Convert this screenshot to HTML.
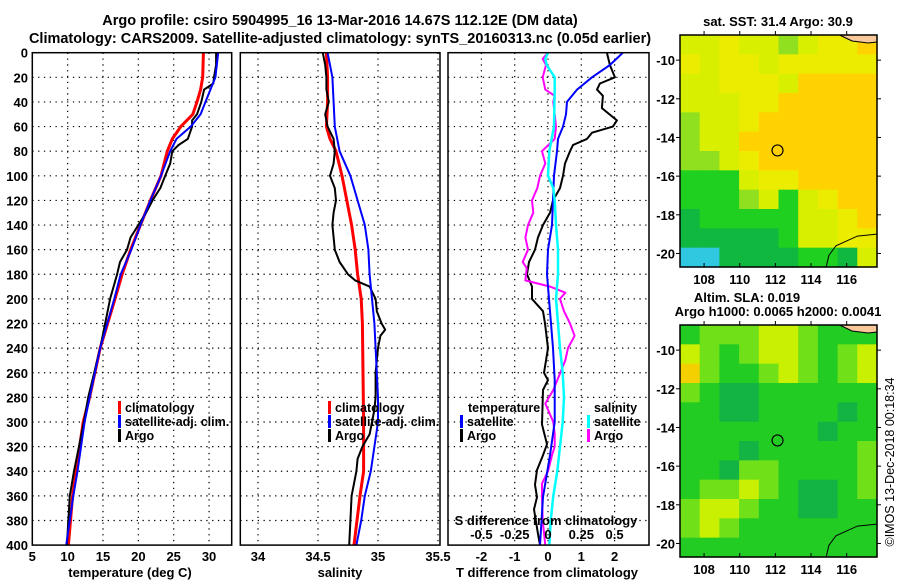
<!DOCTYPE html>
<html><head><meta charset="utf-8">
<style>
html,body{margin:0;padding:0;background:#fff;}
svg{display:block;font-family:"Liberation Sans",Arial,sans-serif;font-weight:bold;}
</style></head>
<body>
<svg id="chart" width="900" height="580" viewBox="0 0 900 580" xmlns="http://www.w3.org/2000/svg">
<rect width="900" height="580" fill="#fff"/>
<text x="340" y="25" font-size="14.5" text-anchor="middle">Argo profile: csiro 5904995_16 13-Mar-2016 14.67S 112.12E (DM data)</text>
<text x="340" y="43" font-size="14.5" text-anchor="middle">Climatology: CARS2009. Satellite-adjusted climatology: synTS_20160313.nc (0.05d earlier)</text>
<g id="g1"></g>
<g id="g2"></g>
<g id="g3"></g>
<g id="m1"></g>
<g id="m2"></g>
<text x="778" y="26" font-size="13" text-anchor="middle">sat. SST: 31.4 Argo: 30.9</text>
<text x="747" y="302" font-size="13" text-anchor="middle">Altim. SLA: 0.019</text>
<text x="778" y="316" font-size="13" text-anchor="middle">Argo h1000: 0.0065 h2000: 0.0041</text>
<text transform="translate(894,462) rotate(-90)" font-size="12.5" font-weight="normal" text-anchor="middle">©IMOS 13-Dec-2018 00:18:34</text>
</svg>
<script>
// ---------- data ----------
const tClimDepth=[0,20,30,40,50,60,70,80,100,120,140,160,180,200,240,280,300,340,360,400];
const tClimVal=[29.2,29.1,28.8,28.3,27.7,26.0,24.8,24.1,23.2,21.7,20.3,18.9,17.7,16.7,14.6,13.1,12.2,11.2,10.7,10.1];
const tSatDepth=[0,20,40,50,60,70,80,100,120,140,160,180,200,240,280,300,340,360,400];
const tSatVal=[31.3,30.9,29.5,28.8,27.4,25.4,24.5,23.2,21.7,20.3,19.0,17.5,16.6,14.6,13.1,12.4,11.4,10.8,9.8];
const tArgoDepth=[0,10,20,25,30,40,50,55,60,70,75,80,90,100,110,120,130,140,150,160,170,180,200,240,280,300,340,360,400];
const tArgoVal=[31.0,31.0,30.7,30.6,29.3,28.9,28.3,27.6,27.6,27.0,25.7,24.8,24.5,23.8,23.1,22.0,21.1,20.0,18.9,18.4,17.4,17.0,16.0,14.6,12.9,12.3,10.9,10.3,9.9];

const sClimDepth=[0,20,40,60,70,80,100,120,140,160,180,200,220,300,340,360,400];
const sClimVal=[34.57,34.58,34.58,34.57,34.60,34.65,34.70,34.74,34.78,34.81,34.83,34.86,34.87,34.88,34.88,34.85,34.80];
const sSatDepth=[0,10,20,40,60,80,100,120,140,160,180,200,220,240,260,280,300,320,340,360,380,400];
const sSatVal=[34.58,34.60,34.62,34.63,34.64,34.68,34.77,34.83,34.89,34.92,34.93,34.95,34.97,34.98,34.99,35.00,35.00,34.97,34.94,34.89,34.86,34.82];
const sArgoDepth=[0,10,20,30,40,50,60,70,80,90,100,110,120,130,140,150,160,170,180,185,190,200,210,220,225,230,240,260,280,290,300,310,320,330,340,360,400];
const sArgoVal=[34.54,34.56,34.57,34.57,34.59,34.56,34.58,34.63,34.64,34.63,34.60,34.64,34.65,34.63,34.62,34.63,34.64,34.68,34.75,34.81,34.93,34.98,34.99,35.03,35.06,35.02,35.00,34.98,34.98,34.97,34.95,34.93,34.87,34.83,34.82,34.78,34.76];

const dTSatDepth=[0,10,20,30,40,50,60,70,80,100,120,140,160,180,200,220,240,266,300,327,361,400];
const dTSatVal=[2.25,1.86,1.32,0.87,0.57,0.54,0.45,0.30,0.27,0.18,0.15,0.12,0.0,-0.03,0.03,0.09,0.15,0.20,0.20,0.06,-0.15,-0.24];
const dTArgoDepth=[0,10,20,25,30,35,45,55,60,65,70,75,80,90,100,110,120,130,140,150,160,170,180,190,200,210,220,240,260,266,274,302,318,327,339,351,361,371,391,400];
const dTArgoVal=[1.77,1.86,2.01,1.56,1.47,1.65,1.62,2.07,1.95,1.32,1.17,0.75,0.66,0.51,0.45,0.36,0.15,0.06,-0.15,-0.30,-0.39,-0.57,-0.63,-0.48,-0.48,-0.15,-0.09,0.0,-0.12,0.0,-0.15,-0.18,-0.03,-0.15,-0.33,-0.39,-0.33,-0.42,-0.30,-0.24];
const dSSatDepth=[0,5,10,20,30,60,80,100,110,120,140,160,180,200,220,240,260,280,300,320,340,360,380,400];
const dSSatVal=[0.0,-0.02,-0.01,0.05,0.05,0.045,0.01,0.0,0.04,0.05,0.06,0.075,0.075,0.06,0.075,0.09,0.11,0.12,0.11,0.09,0.07,0.04,0.02,0.01];
const dSArgoDepth=[0,5,10,20,30,35,40,50,60,70,80,90,100,110,120,130,140,150,160,170,175,180,185,190,195,200,210,220,230,240,250,266,274,285,300,310,320,327,340,350,361,380,400];
const dSArgoVal=[0.0,-0.04,-0.015,-0.04,-0.02,0.05,0.04,0.05,0.06,0.05,-0.045,-0.02,-0.06,-0.08,-0.12,-0.11,-0.15,-0.17,-0.15,-0.19,-0.16,-0.165,-0.17,0.015,0.13,0.09,0.12,0.165,0.2,0.15,0.13,0.07,0.04,-0.02,0.04,0.05,0.05,0.03,0.0,-0.045,-0.045,-0.04,-0.02];

const depthTicks=[0,20,40,60,80,100,120,140,160,180,200,220,240,260,280,300,320,340,360,380,400];
const tTicks=[5,10,15,20,25,30];
const sTicks=[34,34.5,35,35.5];
const sTickLabels=["34","34.5","35","35.5"];
const dTTicks=[-2,-1,0,1,2];
const dSTicks=[-0.5,-0.25,0,0.25,0.5];
const lonTicks=[108,110,112,114,116];
const latTicks=[-10,-12,-14,-16,-18,-20];

const sstGrid=[
[4,4,5,4,4,3,4,5,5,6],[5,4,5,5,4,5,5,5,5,5],[4,4,5,5,5,4,6,6,6,6],[4,4,4,5,5,6,6,6,6,6],
[3,4,4,5,6,6,6,6,6,6],[3,4,4,6,6,6,6,6,6,6],[3,3,4,5,6,6,6,6,6,6],[2,2,2,4,5,5,6,6,6,6],
[2,2,2,3,4,2,4,5,6,6],[1,2,2,2,2,2,4,4,5,6],[1,1,1,1,1,2,4,4,5,5],[0,0,1,1,1,1,2,2,1,4]];
const sstPalette=["#30c8e0","#10b840","#20d020","#90e020","#d8f000","#ecec00","#ffd200"];
const slaGrid=[
[1,2,2,2,3,3,2,1,1,1],[3,2,1,2,3,3,2,1,2,3],[4,2,1,1,2,3,2,1,2,3],[2,1,0,0,1,1,1,1,1,1],
[1,1,0,0,1,1,1,1,0,1],[1,1,1,1,1,1,1,0,1,1],[1,1,1,0,1,1,1,1,1,2],[1,1,0,2,2,1,1,1,1,2],
[1,2,2,3,2,1,0,0,1,2],[2,3,3,2,1,1,0,0,1,1],[2,3,2,1,1,1,1,1,1,1],[1,1,1,1,1,1,1,1,1,1]];
const slaPalette=["#14b444","#22cc22","#70e018","#c8f000","#f4d000"];
const floatLon=112.12, floatLat=-14.67;

// ---------- helpers ----------
const NS="http://www.w3.org/2000/svg";
function mk(parent,tag,attrs,text){const e=document.createElementNS(NS,tag);for(const k in attrs)e.setAttribute(k,attrs[k]);if(text!==undefined)e.textContent=text;parent.appendChild(e);return e;}
const Y0=52.7,YS=1.231;
const yD=d=>Y0+d*YS;
const xT=t=>32.3+(t-5)*7.07;
const xS=s=>258+(s-34)*120;
const xDT=v=>548+v*33.3;
const xDS=v=>548+v*133.2;

function frame(g,x0,x1,xticks,xf){
  depthTicks.forEach(d=>{ if(d>0&&d<400){const l=mk(g,'line',{x1:x0,x2:x1,y1:yD(d),y2:yD(d),stroke:'#000','stroke-width':1.2,'stroke-dasharray':'1.3 4.5'});
    
    }});
  xticks.forEach(t=>{const x=xf(t); if(x>x0+1&&x<x1-1){const l=mk(g,'line',{x1:x,x2:x,y1:yD(0),y2:yD(400),stroke:'#000','stroke-width':1.2,'stroke-dasharray':'1.3 4.5'});
    
    }});
}
function border(g,x0,x1){const r=mk(g,'rect',{x:x0,y:yD(0),width:x1-x0,height:yD(400)-yD(0),fill:'none',stroke:'#000','stroke-width':1.5});
  
  }
function line(g,depths,vals,xf,color,w,name){
  const pts=depths.map((d,i)=>xf(vals[i]).toFixed(1)+','+yD(d).toFixed(1)).join(' ');
  const p=mk(g,'polyline',{points:pts,fill:'none',stroke:color,'stroke-width':w,'stroke-linejoin':'round'});
  
  
}
function label(g,x,y,txt,anchor,size,name){const t=mk(g,'text',{x:x,y:y,'font-size':size||13,'text-anchor':anchor||'middle'},txt);
  
  return t;}
function legendEntry(g,x,y,color,txt){
  const r=mk(g,'rect',{x:x,y:y-11,width:3,height:13,fill:color});
  
  
  label(g,x+7,y,txt,'start',12.5,'legend-entry');
}

// ---------- panel 1 ----------
const g1=document.getElementById('g1');
frame(g1,32.3,231.7,tTicks,xT);
line(g1,tClimDepth,tClimVal,xT,'#ff0000',3,'climatology-temperature-line');
line(g1,tArgoDepth,tArgoVal,xT,'#000',2,'argo-temperature-line');
line(g1,tSatDepth,tSatVal,xT,'#0000ff',2,'satellite-temperature-line');
border(g1,32.3,231.7);
depthTicks.forEach(d=>label(g1,28,yD(d)+5,String(d),'end',13,'depth-tick-label'));
tTicks.forEach(t=>label(g1,xT(t),561,String(t),'middle',13,'temperature-tick-label'));
label(g1,130,577,'temperature (deg C)','middle',13,'temperature-axis-title');
legendEntry(g1,118,412,'#ff0000','climatology');
legendEntry(g1,118,426,'#0000ff','satellite-adj. clim.');
legendEntry(g1,118,440,'#000','Argo');

// ---------- panel 2 ----------
const g2=document.getElementById('g2');
frame(g2,240.3,440,sTicks,xS);
line(g2,sClimDepth,sClimVal,xS,'#ff0000',3,'climatology-salinity-line');
line(g2,sArgoDepth,sArgoVal,xS,'#000',2,'argo-salinity-line');
line(g2,sSatDepth,sSatVal,xS,'#0000ff',2,'satellite-salinity-line');
border(g2,240.3,440);
sTicks.forEach((s,i)=>label(g2,xS(s),561,sTickLabels[i],'middle',13,'salinity-tick-label'));
label(g2,340,577,'salinity','middle',13,'salinity-axis-title');
legendEntry(g2,328,412,'#ff0000','climatology');
legendEntry(g2,328,426,'#0000ff','satellite-adj. clim.');
legendEntry(g2,328,440,'#000','Argo');

// ---------- panel 3 ----------
const g3=document.getElementById('g3');
frame(g3,448,649,dTTicks,xDT);
line(g3,dTArgoDepth,dTArgoVal,xDT,'#000',2,'argo-temperature-difference-line');
line(g3,dSArgoDepth,dSArgoVal,xDS,'#ff00ff',2,'argo-salinity-difference-line');
line(g3,dTSatDepth,dTSatVal,xDT,'#0000ff',2,'satellite-temperature-difference-line');
line(g3,dSSatDepth,dSSatVal,xDS,'#00ffff',2.5,'satellite-salinity-difference-line');
border(g3,448,649);
dTTicks.forEach(t=>label(g3,xDT(t),561,String(t),'middle',13,'t-difference-tick-label'));
label(g3,547,577,'T difference from climatology','middle',13,'t-difference-axis-title');
label(g3,546,525,'S difference from climatology','middle',13,'s-difference-axis-title');
dSTicks.forEach(s=>label(g3,xDS(s),539,String(s),'middle',13,'s-difference-tick-label'));
label(g3,468,412,'temperature','start',12.5,'legend-temperature-heading');
legendEntry(g3,460,426,'#0000ff','satellite');
legendEntry(g3,460,440,'#000','Argo');
label(g3,594,412,'salinity','start',12.5,'legend-salinity-heading');
legendEntry(g3,587,426,'#00ffff','satellite');
legendEntry(g3,587,440,'#ff00ff','Argo');

// ---------- maps ----------
const LON0=106.65, LON1=117.7, LAT0=-8.7, LAT1=-20.7;
function drawMap(g,top,grid,palette,name){
  const left=680,right=877,bottom=top+232;
  const xL=lon=>left+(lon-LON0)*(right-left)/(LON1-LON0);
  const yL=lat=>top+(LAT0-lat)*(bottom-top)/(LAT0-LAT1);
  const nr=grid.length,nc=grid[0].length;
  const cw=(right-left)/nc,ch=(bottom-top)/nr;
  grid.forEach((row,j)=>row.forEach((v,i)=>{
    const r=mk(g,'rect',{x:(left+i*cw).toFixed(2),y:(top+j*ch).toFixed(2),width:(cw+0.6).toFixed(2),height:(ch+0.6).toFixed(2),fill:palette[v]});
    
    
  }));
  const land=mk(g,'path',{d:`M${xL(115.6)},${top} L${xL(116.3)},${top+6} L${xL(117.2)},${top+8} L${right},${top+7} L${right},${top} Z`,fill:'#f8c89a',stroke:'#000','stroke-width':1});
  
  
  const coast=mk(g,'path',{d:`M${right},${yL(-19.0)} L${xL(116.6)},${yL(-19.1)} L${xL(116.0)},${yL(-19.35)} L${xL(115.4)},${yL(-19.6)} L${xL(115.0)},${yL(-20.1)} L${xL(114.85)},${bottom}`,fill:'none',stroke:'#000','stroke-width':1});
  
  
  const c=mk(g,'circle',{cx:xL(floatLon),cy:yL(floatLat),r:5.5,fill:'none',stroke:'#000','stroke-width':1.2});
  
  
  const fr=mk(g,'rect',{x:left,y:top,width:right-left,height:bottom-top,fill:'none',stroke:'#000','stroke-width':1.5});
  
  
  lonTicks.forEach(lo=>{
    mk(g,'line',{x1:xL(lo),x2:xL(lo),y1:bottom,y2:bottom-4,stroke:'#000'});
    mk(g,'line',{x1:xL(lo),x2:xL(lo),y1:top,y2:top-4,stroke:'#000'});
    label(g,xL(lo),bottom+17,String(lo),'middle',13,'longitude-tick-label');
  });
  latTicks.forEach(la=>{
    mk(g,'line',{x1:left,x2:left-4,y1:yL(la),y2:yL(la),stroke:'#000'});
    mk(g,'line',{x1:right,x2:right+4,y1:yL(la),y2:yL(la),stroke:'#000'});
    label(g,675,yL(la)+5,String(la),'end',13,'latitude-tick-label');
  });
}
drawMap(document.getElementById('m1'),35,sstGrid,sstPalette,'sst-map');
drawMap(document.getElementById('m2'),325,slaGrid,slaPalette,'sla-map');
</script>
</body></html>
